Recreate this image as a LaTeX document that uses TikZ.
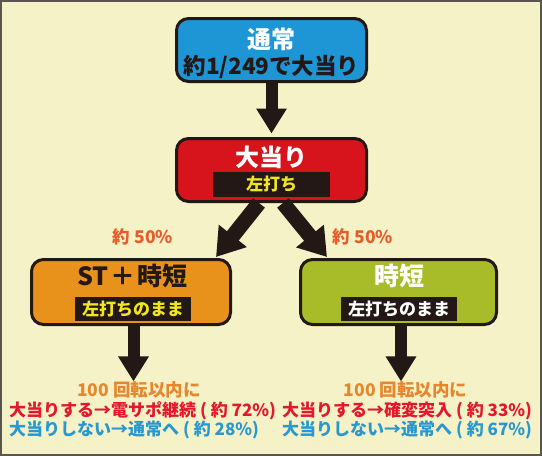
\documentclass[tikz,border=0pt]{standalone}
\usepackage{fontspec}
\setmainfont{Noto Sans CJK JP}
\usetikzlibrary{arrows.meta,calc}
\definecolor{cbg}{HTML}{F5F2C8}
\definecolor{cframe}{HTML}{5A5550}
\definecolor{cline}{HTML}{231815}
\definecolor{cblue}{HTML}{1E95D4}
\definecolor{cred}{HTML}{D7141B}
\definecolor{corange}{HTML}{E8921B}
\definecolor{cgreen}{HTML}{A8BC2A}
\definecolor{cyel}{HTML}{F2E61E}
\definecolor{tor}{HTML}{E8862B}
\definecolor{tro}{HTML}{E85C2A}
\definecolor{tred}{HTML}{E4182C}
\definecolor{tblue}{HTML}{2A98CE}
\newcommand\myfs[1]{\fontsize{#1}{#1}\selectfont\bfseries}
\begin{document}
\begin{tikzpicture}[x=1pt,y=-1pt,
  box/.style={draw=cline,line width=3pt,rounded corners=12pt,inner sep=0pt},
  lbl/.style={fill=cline,inner sep=0pt,minimum width=116pt,minimum height=24pt},
  txt/.style={inner sep=0pt},
  bigarrow/.style={draw=cline,line width=12pt,-{Triangle[width=29pt,length=25pt]}},
  diagarrow/.style={draw=cline,line width=15pt,-{Triangle[width=34pt,length=27pt]}}]
\fill[cbg] (0,0) rectangle (542,456);
\draw[cframe,line width=2pt] (1,1) rectangle (541,455);
\useasboundingbox (0,0) rectangle (542,456);
% boxes
\node[box,fill=cblue,minimum width=190pt,minimum height=63pt] (n1) at (271.5,50) {};
\node[box,fill=cred,minimum width=190pt,minimum height=63pt] (n2) at (271.5,170) {};
\node[box,fill=corange,minimum width=199pt,minimum height=65pt] (n3) at (131,292) {};
\node[box,fill=cgreen,minimum width=196pt,minimum height=65pt] (n4) at (398.5,292) {};
% texts in boxes
\node[txt,text=white,font=\myfs{24}] (n1t) at (271.5,39) {通常};
\node[txt,text=cline,font=\myfs{22.5}] (n1s) at (271.5,67) {約1/249で大当り};
\node[txt,text=white,font=\myfs{24}] (n2t) at (271.5,157) {大当り};
\node[lbl,minimum width=117pt,minimum height=25pt,text=cyel,font=\myfs{17}] (n2l) at (271.5,184.5) {左打ち};
\node[txt,text=cline,font=\myfs{25}] (n3t) at (132.5,276) {ST\kern2pt＋\kern2pt時短};
\node[lbl,text=cyel,font=\myfs{17}] (n3l) at (133,309) {左打ちのまま};
\node[txt,text=white,font=\myfs{25}] (n4t) at (399.5,276) {時短};
\node[lbl,text=white,font=\myfs{17}] (n4l) at (399,309) {左打ちのまま};
% percentage labels
\node[txt,text=tro,font=\myfs{17.5}] (p1) at (143,237) {約 50\%};
\node[txt,text=tro,font=\myfs{17.5}] (p2) at (363,237) {約 50\%};
% bottom texts
\node[txt,text=tor,font=\myfs{17.5}] (l1) at (139,390) {100 回転以内に};
\node[txt,text=tred,font=\myfs{17},anchor=west] (l2) at (9,411) {大当りする→電サポ継続 ( 約 72\%)};
\node[txt,text=tblue,font=\myfs{17},anchor=west] (l3) at (9,430) {大当りしない→通常へ ( 約 28\%)};
\node[txt,text=tor,font=\myfs{17.5}] (r1) at (405.5,390) {100 回転以内に};
\node[txt,text=tred,font=\myfs{17},anchor=west] (r2) at (282,411) {大当りする→確変突入 ( 約 33\%)};
\node[txt,text=tblue,font=\myfs{17},anchor=west] (r3) at (282,430) {大当りしない→通常へ ( 約 67\%)};
% arrows
\coordinate (tipL) at (216,257);
\coordinate (tipR) at (327,257);
\path (n3.south) ++(2.5,0) coordinate (a3s);
\path (n4.south) ++(2.5,0) coordinate (a4s);
\coordinate (a3e) at (a3s |- l1.north);
\coordinate (a4e) at (a4s |- r1.north);
\path (n2.north) ++(0,-3.5) coordinate (a2e);
\path (n2.south) ++(-12.5,0) coordinate (dLs);
\path (n2.south) ++(11.5,0) coordinate (dRs);
\draw[bigarrow] (n1.south) -- (a2e);
\draw[diagarrow] (dLs) -- (tipL);
\draw[diagarrow] (dRs) -- (tipR);
\draw[bigarrow] (a3s) -- (a3e);
\draw[bigarrow] (a4s) -- (a4e);
\end{tikzpicture}
\end{document}
